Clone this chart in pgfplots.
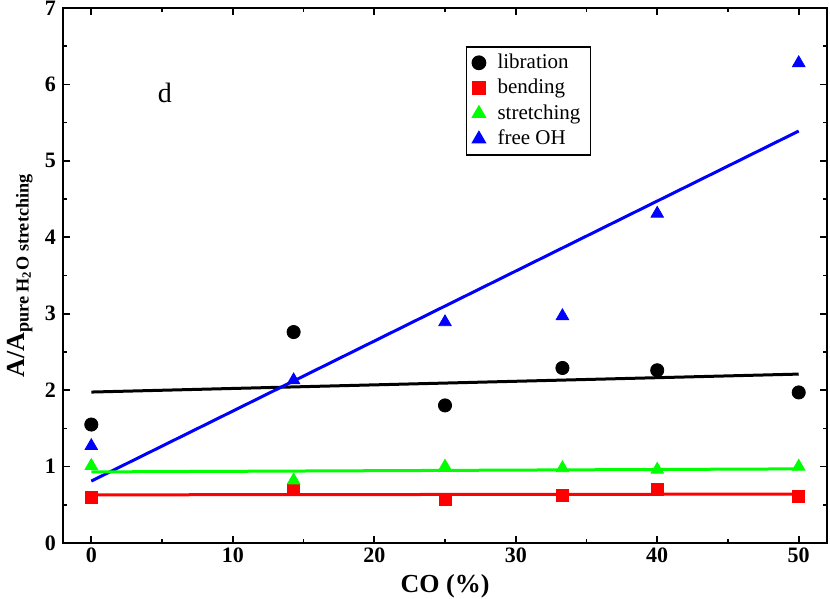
\documentclass[border=0pt]{standalone}
\usepackage{fontspec}
\setmainfont{Liberation Serif}
\usepackage{pgfplots}
\pgfplotsset{compat=1.18}
\begin{document}
\begin{tikzpicture}
\begin{axis}[
  scale only axis, width=382pt, height=267.5pt,
  xmin=-2, xmax=52, ymin=0, ymax=7,
  xtick={0,10,...,50}, ytick={0,1,...,7},
  minor x tick num=1, minor y tick num=1,
  tick align=inside,
  major tick length=3.5pt, minor tick length=2pt,
  axis line style={line width=1pt},
  every tick/.style={black, line width=0.8pt},
  tick label style={font=\fontsize{11}{13}\selectfont\bfseries},
  xticklabel style={yshift=1pt},
  /pgf/number format/assume math mode=true,
  xlabel={CO (\%)},
  ylabel={A/A\textsubscript{pure H\textsubscript{2}O stretching}},
  label style={font=\fontsize{13}{15}\selectfont\bfseries},
  xlabel style={at={(axis description cs:0.5,-0.0804)}, anchor=center},
  ylabel style={at={(axis description cs:-0.0563,0.5)}, anchor=center},
  legend style={at={(axis cs:26.45,6.5)}, anchor=north west, draw=black, line width=0.8pt,
    font=\fontsize{10.5}{13}\selectfont, inner xsep=3pt, inner ysep=1.5pt, row sep=-0.1pt},
  legend cell align=left,
  clip=false,
]
\addplot[black, line width=1.5pt, forget plot] coordinates {(0,1.975) (50,2.21)};
\addplot[blue, line width=1.5pt, forget plot] coordinates {(0,0.81) (50,5.39)};
\addplot[green, line width=1.5pt, forget plot] coordinates {(0,0.93) (50,0.97)};
\addplot[red, line width=1.5pt, forget plot] coordinates {(0,0.63) (50,0.64)};

\addplot[only marks, mark=*, mark size=3.3pt, black, mark options={fill=black}] coordinates {
  (0,1.55) (14.3,2.76) (25,1.80) (33.3,2.29) (40,2.26) (50,1.97)};
\addlegendentry{\hspace*{4pt}libration}
\addplot[only marks, mark=square*, mark size=3pt, red, mark options={fill=red}] coordinates {
  (0,0.60) (14.3,0.70) (25,0.57) (33.3,0.62) (40,0.70) (50,0.61)};
\addlegendentry{\hspace*{4pt}bending}
\addplot[only marks, mark=triangle*, mark size=3.6pt, green, mark options={fill=green}] coordinates {
  (0,1.01) (14.3,0.82) (25,1.00) (33.3,0.98) (40,0.96) (50,1.00)};
\addlegendentry{\hspace*{4pt}stretching}
\addplot[only marks, mark=triangle*, mark size=3.6pt, blue, mark options={fill=blue}] coordinates {
  (0,1.27) (14.3,2.13) (25,2.89) (33.3,2.97) (40,4.31) (50,6.28)};
\addlegendentry{\hspace*{4pt}free OH}

\node at (axis cs:5.2,5.89) {\fontsize{14}{16}\selectfont d};
\end{axis}
\pgfresetboundingbox
\path (current axis.south west) ++(-31.5pt,-27.5pt) coordinate (bbA);
\path (current axis.north east) ++(1.5pt,4pt) coordinate (bbB);
\useasboundingbox (bbA) rectangle (bbB);
\end{tikzpicture}
\end{document}
